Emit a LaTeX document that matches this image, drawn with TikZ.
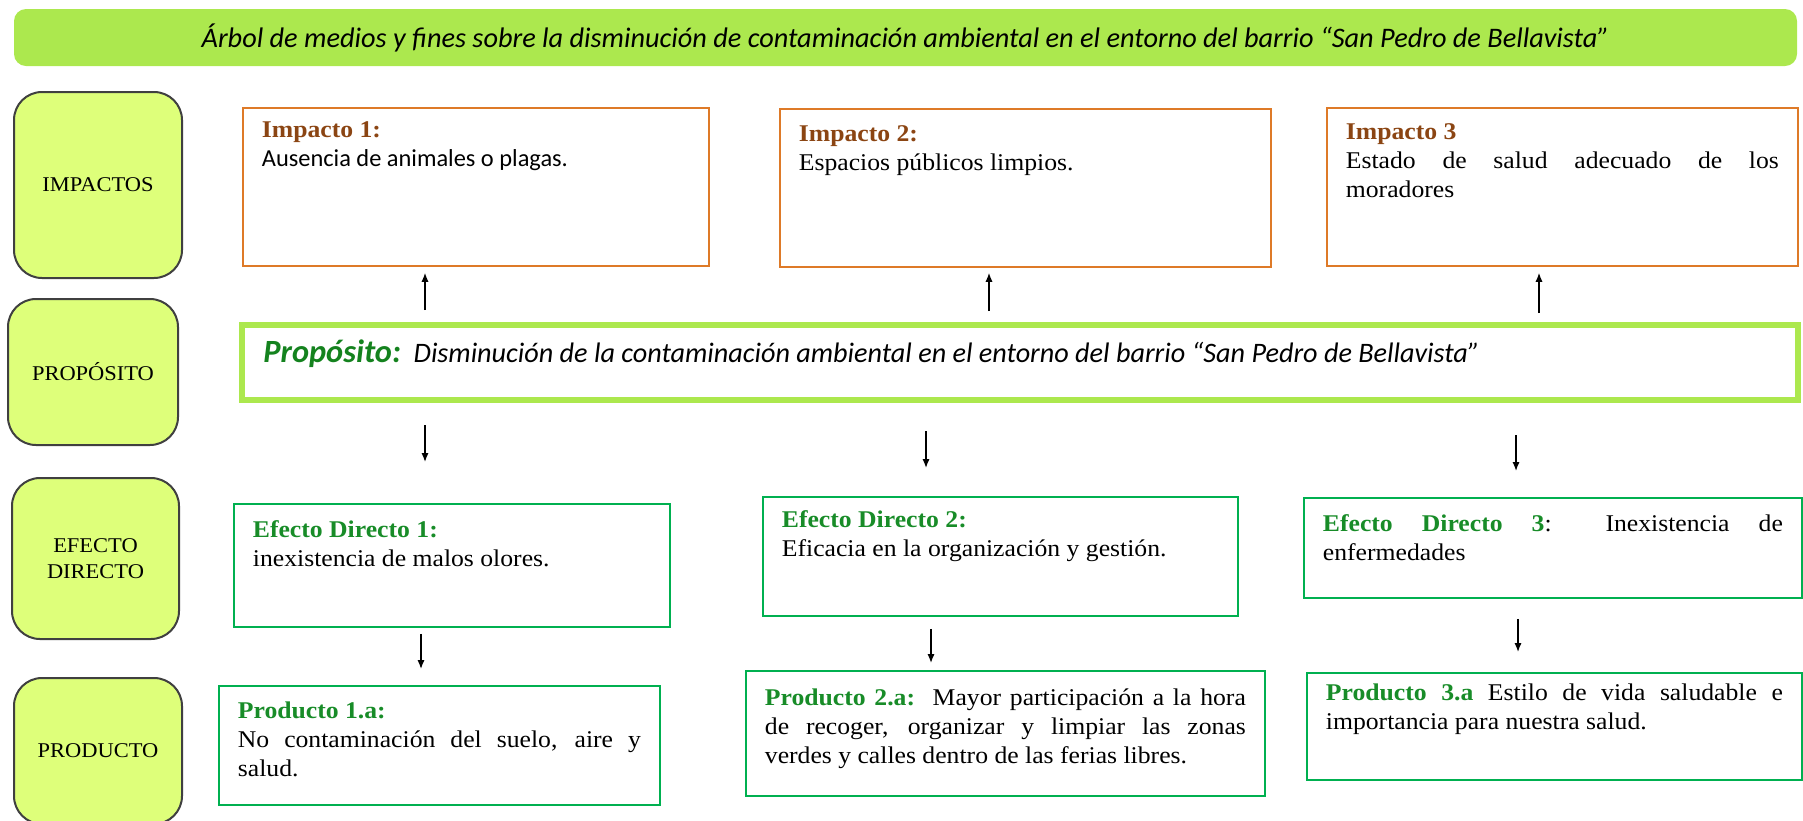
\documentclass[tikz,border=0pt]{standalone}
\usepackage{fontspec}
\setmainfont[FakeStretch=1.07]{Liberation Serif}
\newfontfamily\calibrifont{Carlito}
\usetikzlibrary{arrows.meta}
\definecolor{lime}{RGB}{172,232,78}
\definecolor{labfill}{RGB}{222,255,122}
\definecolor{labdraw}{RGB}{64,64,64}
\definecolor{orangeB}{RGB}{222,122,40}
\definecolor{brownH}{RGB}{139,69,19}
\definecolor{greenB}{RGB}{0,176,80}
\definecolor{greenH}{RGB}{24,140,40}
\definecolor{greenP}{RGB}{20,130,30}
\newcommand{\bxt}[4]{\parbox[c][#1][t]{#2}{\rule{0pt}{#3}#4}}
\begin{document}
\begin{tikzpicture}[x=0.5pt,y=-0.5pt,
  lab/.style={draw=labdraw, fill=labfill, line width=1pt, rounded corners=14pt, align=center, font=\fontsize{10.5}{13}\selectfont, inner sep=0pt},
  impbox/.style={draw=orangeB, line width=0.9pt, anchor=north west, inner xsep=9.5pt, inner ysep=0pt, font=\fontsize{12}{14.5}\selectfont},
  grbox/.style={draw=greenB, line width=0.9pt, anchor=north west, inner xsep=9.5pt, inner ysep=0pt, font=\fontsize{12}{14.5}\selectfont},
  arr/.style={-{Latex[length=4.5pt,width=3.6pt]}, line width=0.7pt},
]
\useasboundingbox (0,0) rectangle (1803,820);

% title
\node[fill=lime, rounded corners=6pt, minimum width=891.5pt, minimum height=28.5pt, inner sep=0pt,
      font=\calibrifont\itshape\fontsize{14.15}{16}\selectfont] (title) at (905.5,37.5)
  {Árbol de medios y fines sobre la disminución de contaminación ambiental en el entorno del barrio “San Pedro de Bellavista”};

% left labels
\node[lab, minimum width=84pt, minimum height=93pt] (lab1) at (98,185) {IMPACTOS};
\node[lab, minimum width=85pt, minimum height=73pt] (lab2) at (93,372) {PROPÓSITO};
\node[lab, minimum width=83.5pt, minimum height=80.5pt] (lab3) at (95.5,558.5) {EFECTO\\DIRECTO};
\node[lab, minimum width=84pt, minimum height=73pt] (lab4) at (98,751) {PRODUCTO};

% impacts
\node[impbox] (imp1) at (242,107) {\bxt{79pt}{214pt}{15pt}{\textbf{\color{brownH}Impacto 1:}\\{\calibrifont\fontsize{12.2}{14.5}\selectfont Ausencia de animales o plagas.}}};
\node[impbox] (imp2) at (779,108) {\bxt{79pt}{226.5pt}{16.5pt}{\textbf{\color{brownH}Impacto 2:}\\Espacios públicos limpios.}};
\node[impbox] (imp3) at (1326,107) {\bxt{79pt}{216.5pt}{16pt}{\textbf{\color{brownH}Impacto 3}\\Estado de salud adecuado de los\linebreak moradores}};

% purpose
\node[draw=lime, line width=3pt, minimum width=778pt, minimum height=37.5pt, inner sep=0pt] (prop) at (1020,362.5) {};
\node[anchor=west, inner sep=0pt, font=\calibrifont\itshape\fontsize{14.1}{16}\selectfont] (proptext) at (263,354)
  {{\color{greenP}\bfseries\fontsize{16.2}{18}\selectfont Propósito:}\ \ Disminución de la contaminación ambiental en el entorno del barrio “San Pedro de Bellavista”};

% direct effects
\node[grbox] (ef1) at (233,503) {\bxt{61.5pt}{199pt}{17pt}{\textbf{\color{greenH}Efecto Directo 1:}\\inexistencia de malos olores.}};
\node[grbox] (ef2) at (762,496) {\bxt{59.5pt}{218.5pt}{15.5pt}{\textbf{\color{greenH}Efecto Directo 2:}\\Eficacia en la organización y gestión.}};
\node[grbox] (ef3) at (1303,497) {\bxt{50pt}{230pt}{17pt}{\textbf{\color{greenH}Efecto Directo 3}: Inexistencia de\linebreak enfermedades}};

% products
\node[grbox] (pr1) at (218,685) {\bxt{59.5pt}{201.5pt}{16.5pt}{\textbf{\color{greenH}Producto 1.a:}\\No contaminación del suelo, aire y\linebreak salud.}};
\node[grbox] (pr2) at (745,670) {\bxt{62.5pt}{240.5pt}{17.5pt}{\textbf{\color{greenH}Producto 2.a:}\ \ Mayor participación a la hora\linebreak de recoger, organizar y limpiar las zonas\linebreak verdes y calles dentro de las ferias libres.}};
\node[grbox] (pr3) at (1306,672) {\bxt{53.5pt}{228.5pt}{14pt}{\textbf{\color{greenH}Producto 3.a} Estilo de vida saludable e\linebreak importancia para nuestra salud.}};

% arrow columns
\coordinate (u1) at (425,0);
\coordinate (u2) at (989,0);
\coordinate (u3) at (1539,0);
\coordinate (d1) at (425,0);
\coordinate (d2) at (926,0);
\coordinate (d3) at (1516,0);
\coordinate (m1) at (421,0);
\coordinate (m2) at (931,0);
\coordinate (m3) at (1518,0);

\draw[arr, shorten <=6pt, shorten >=3pt] (u1 |- prop.north) -- (u1 |- imp1.south);
\draw[arr, shorten <=5.5pt, shorten >=2.5pt] (u2 |- prop.north) -- (u2 |- imp2.south);
\draw[arr, shorten <=4.5pt, shorten >=3pt] (u3 |- prop.north) -- (u3 |- imp3.south);

\draw[arr, shorten <=11pt, shorten >=20.5pt] (d1 |- prop.south) -- (d1 |- ef1.north);
\draw[arr, shorten <=14pt, shorten >=14pt] (d2 |- prop.south) -- (d2 |- ef2.north);
\draw[arr, shorten <=16pt, shorten >=13pt] (d3 |- prop.south) -- (d3 |- ef3.north);

\draw[arr, shorten <=3pt, shorten >=8pt] (m1 |- ef1.south) -- (m1 |- pr1.north);
\draw[arr, shorten <=6pt, shorten >=3.5pt] (m2 |- ef2.south) -- (m2 |- pr2.north);
\draw[arr, shorten <=10pt, shorten >=10pt] (m3 |- ef3.south) -- (m3 |- pr3.north);
\end{tikzpicture}
\end{document}
